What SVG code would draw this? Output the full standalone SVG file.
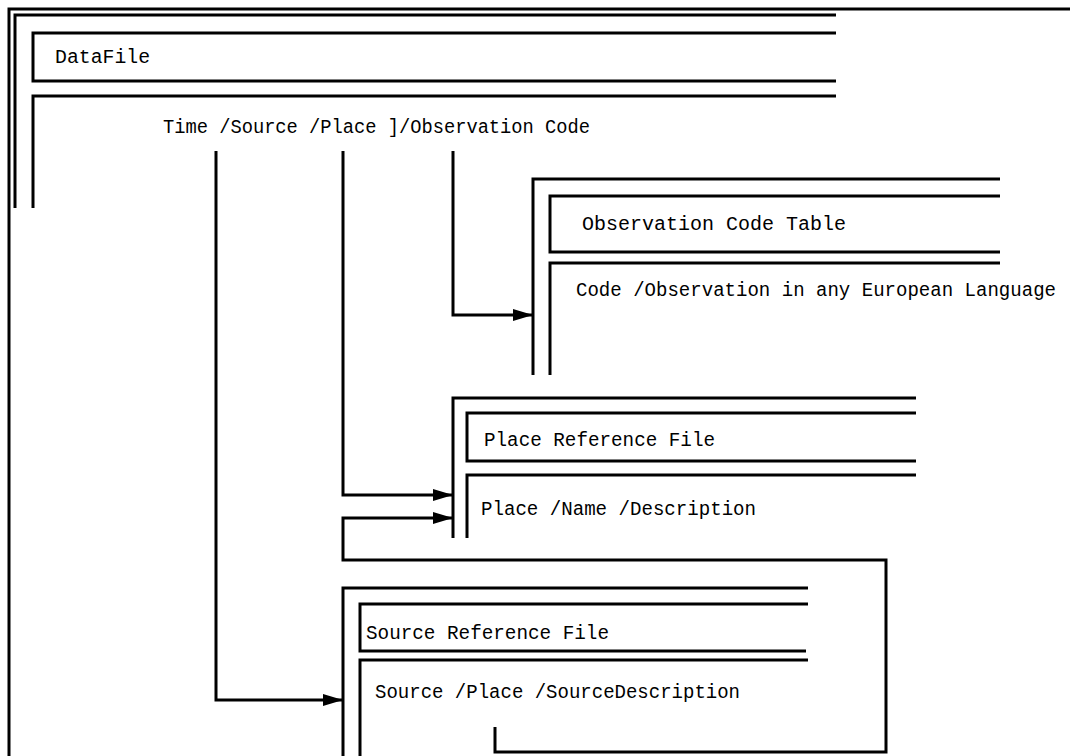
<svg xmlns="http://www.w3.org/2000/svg" width="1070" height="756" viewBox="0 0 1070 756">
<defs>
<marker id="arr" viewBox="0 0 20 12" refX="20" refY="6" markerWidth="20" markerHeight="12" markerUnits="userSpaceOnUse" orient="auto"><path d="M0,0 L20,6 L0,12 z" fill="#000"/></marker>
<style>
.ln{fill:none;stroke:#000;stroke-width:3;stroke-linejoin:miter;stroke-linecap:butt}
.cn{fill:none;stroke:#000;stroke-width:3;stroke-linejoin:miter}
.t{font-family:"Liberation Mono","DejaVu Sans Mono",monospace;font-size:20px;fill:#000}
</style>
</defs>
<rect width="1070" height="756" fill="#fff"/>
<g id="datafile">
<path class="ln" d="M9,756 V9 H1070"/>
<path class="ln" d="M15,208 V15 H836"/>
<path class="ln" d="M836,33 H33 V81 H836"/>
<path class="ln" d="M836,96 H33 V208"/>
<text class="t" x="55" y="63" textLength="95" lengthAdjust="spacingAndGlyphs">DataFile</text>
<text class="t" x="163" y="133" textLength="427" lengthAdjust="spacingAndGlyphs">Time /Source /Place ]/Observation Code</text>
</g>
<g id="observation">
<path class="ln" d="M533,375 V179 H1000"/>
<path class="ln" d="M1000,196 H550 V252 H1000"/>
<path class="ln" d="M1000,263 H550 V375"/>
<text class="t" x="582" y="230" textLength="264" lengthAdjust="spacingAndGlyphs">Observation Code Table</text>
<text class="t" x="576" y="296" textLength="480" lengthAdjust="spacingAndGlyphs">Code /Observation in any European Language</text>
</g>
<g id="place">
<path class="ln" d="M453,538 V398 H916"/>
<path class="ln" d="M916,413 H467 V461 H916"/>
<path class="ln" d="M916,475 H467 V538"/>
<text class="t" x="484" y="446" textLength="231" lengthAdjust="spacingAndGlyphs">Place Reference File</text>
<text class="t" x="481" y="515" textLength="275" lengthAdjust="spacingAndGlyphs">Place /Name /Description</text>
</g>
<g id="source">
<path class="ln" d="M343,756 V588 H808"/>
<path class="ln" d="M808,604 H360 V651 H806"/>
<path class="ln" d="M808,660 H360 V756"/>
<text class="t" x="366" y="639" textLength="243" lengthAdjust="spacingAndGlyphs">Source Reference File</text>
<text class="t" x="375" y="698" textLength="365" lengthAdjust="spacingAndGlyphs">Source /Place /SourceDescription</text>
</g>
<g id="connectors">
<path class="cn" d="M216,151 V700 H343" marker-end="url(#arr)"/>
<path class="cn" d="M343,151 V495 H453" marker-end="url(#arr)"/>
<path class="cn" d="M453,151 V315 H533" marker-end="url(#arr)"/>
<path class="cn" d="M495,727 V752 H886 V560 H343 V518 H453" marker-end="url(#arr)"/>
</g>
</svg>
